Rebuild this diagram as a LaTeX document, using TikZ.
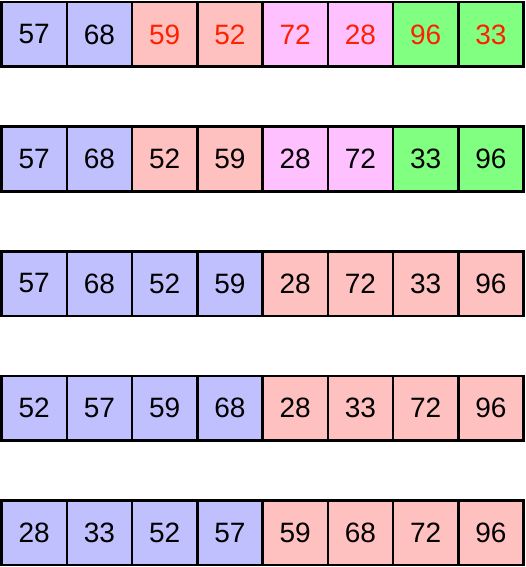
\documentclass[tikz,border=0pt]{standalone}
\usepackage{fontspec}
\setmainfont{Liberation Sans}
\definecolor{cblue}{RGB}{192,192,255}
\definecolor{cpink}{RGB}{255,192,192}
\definecolor{cmag}{RGB}{255,192,255}
\definecolor{cgreen}{RGB}{128,255,128}
\definecolor{cred}{RGB}{255,32,0}
\begin{document}
\begin{tikzpicture}[x=1pt,y=-1pt,
  cell/.style={draw=black,line width=2.5pt,minimum width=65.25pt,minimum height=64.5pt,inner sep=0pt,outer sep=0pt,font=\fontsize{28}{28}\selectfont,anchor=center},
  B/.style={cell,fill=cblue},
  P/.style={cell,fill=cpink},
  M/.style={cell,fill=cmag},
  G/.style={cell,fill=cgreen}]
\useasboundingbox (0,0) rectangle (525,567);
\foreach \r/\row in {1/{B/57/black,B/68/black,P/59/cred,P/52/cred,M/72/cred,M/28/cred,G/96/cred,G/33/cred},
                     2/{B/57/black,B/68/black,P/52/black,P/59/black,M/28/black,M/72/black,G/33/black,G/96/black},
                     3/{B/57/black,B/68/black,B/52/black,B/59/black,P/28/black,P/72/black,P/33/black,P/96/black},
                     4/{B/52/black,B/57/black,B/59/black,B/68/black,P/28/black,P/33/black,P/72/black,P/96/black},
                     5/{B/28/black,B/33/black,B/52/black,B/57/black,P/59/black,P/68/black,P/72/black,P/96/black}}{
  \foreach \s/\v/\tc [count=\c] in \row {
    \node[\s,text=\tc] (n\r-\c) at ({1.5+65.25*(\c-0.5)},{34.5+124.5*(\r-1)}) {\v};
  }
}
\end{tikzpicture}
\end{document}
